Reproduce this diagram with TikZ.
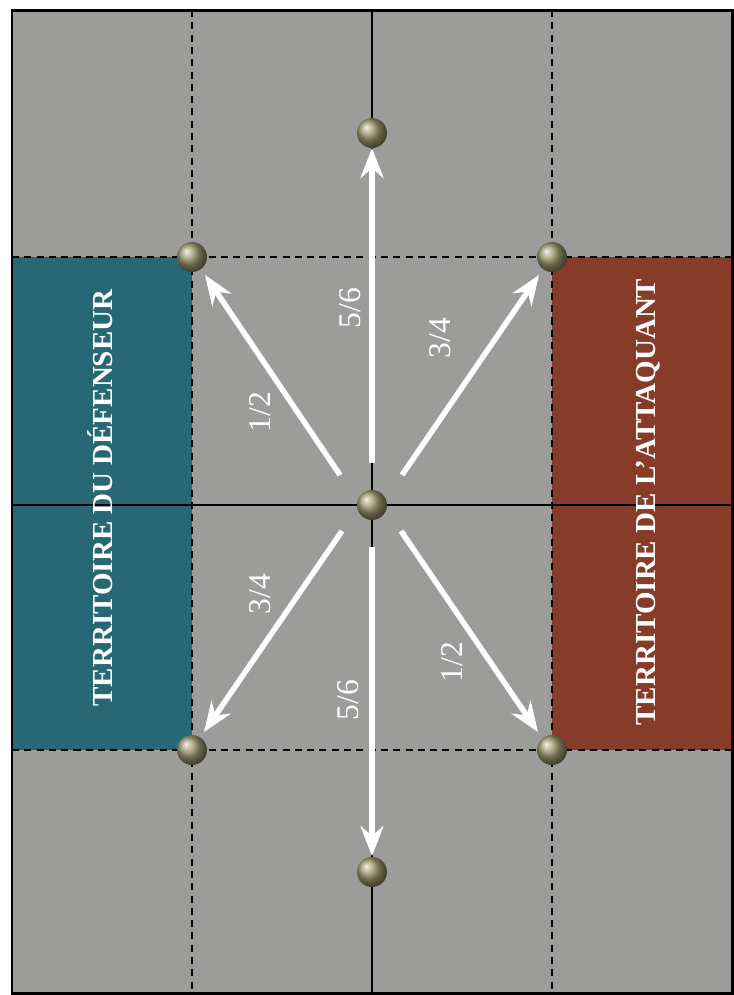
\documentclass[tikz,border=0pt]{standalone}
\usepackage{fontspec}
\setmainfont{Liberation Serif}
\usetikzlibrary{arrows.meta}
\definecolor{stone}{RGB}{156,156,154}
\definecolor{defteal}{RGB}{40,104,118}
\definecolor{attred}{RGB}{134,60,40}
\definecolor{brass}{RGB}{156,154,110}
\begin{document}
\begin{tikzpicture}[x=0.02cm, y=-0.02cm,
    peg/.style={circle, minimum size=0.6cm, inner sep=0pt, shading=ball, ball color=brass},
    move/.style={white, line width=0.11cm, -{Stealth[length=0.6cm, width=0.46cm, inset=0.2cm]}},
    ratio/.style={text=white, font=\fontsize{18}{18}\selectfont, rotate=90},
    zone/.style={text=white, font=\bfseries\fontsize{16.5}{16.5}\selectfont, rotate=90},
    gridline/.style={black, line width=0.6pt, dash pattern=on 4pt off 3pt},
    midline/.style={black, line width=0.8pt}
]
\useasboundingbox (0,0) rectangle (734,995);

% Board and territories
\fill[stone] (12,10) rectangle (732,993);
\fill[defteal] (12,257) rectangle (192,750);
\fill[attred] (552,257) rectangle (732,750);

% Grid lines
\draw[gridline] (192,10) -- (192,993);
\draw[gridline] (552,10) -- (552,993);
\draw[gridline] (12,257) -- (732,257);
\draw[gridline] (12,750) -- (732,750);
\draw[midline] (372,10) -- (372,993);
\draw[midline] (12,505) -- (732,505);
\draw[line width=0.06cm] (12,10) rectangle (732,993);

% Territory labels
\node[zone] (def) at (100,498) {TERRITOIRE DU DÉFENSEUR};
\node[zone] (att) at (648,502) {TERRITOIRE DE L'ATTAQUANT};

% Arrow ends
\coordinate (sUL) at (340,475); \coordinate (tUL) at (205,275);
\coordinate (sU)  at (372,463); \coordinate (tU)  at (372,148);
\coordinate (sUR) at (402,475); \coordinate (tUR) at (539,275);
\coordinate (sLL) at (342,531); \coordinate (tLL) at (204,732);
\coordinate (sD)  at (372,547); \coordinate (tD)  at (372,856);
\coordinate (sLR) at (401,531); \coordinate (tLR) at (538,732);

% Moves
\draw[move] (sUL) -- (tUL);
\draw[move] (sU) -- (tU);
\draw[move] (sUR) -- (tUR);
\draw[move] (sLL) -- (tLL);
\draw[move] (sD) -- (tD);
\draw[move] (sLR) -- (tLR);

% Ratios
\node[ratio] (rUL) at (260,412) {1/2};
\node[ratio] (rU)  at (350,308) {5/6};
\node[ratio] (rUR) at (440,338) {3/4};
\node[ratio] (rLL) at (260,594) {3/4};
\node[ratio] (rD)  at (348,700) {5/6};
\node[ratio] (rLR) at (452,662) {1/2};

% Pegs
\node[peg] (centre) at (372,505) {};
\node[peg] (pU)  at (372,133) {};
\node[peg] (pD)  at (372,872) {};
\node[peg] (pUL) at (192,257) {};
\node[peg] (pUR) at (552,257) {};
\node[peg] (pLL) at (192,750) {};
\node[peg] (pLR) at (552,750) {};
\end{tikzpicture}
\end{document}
